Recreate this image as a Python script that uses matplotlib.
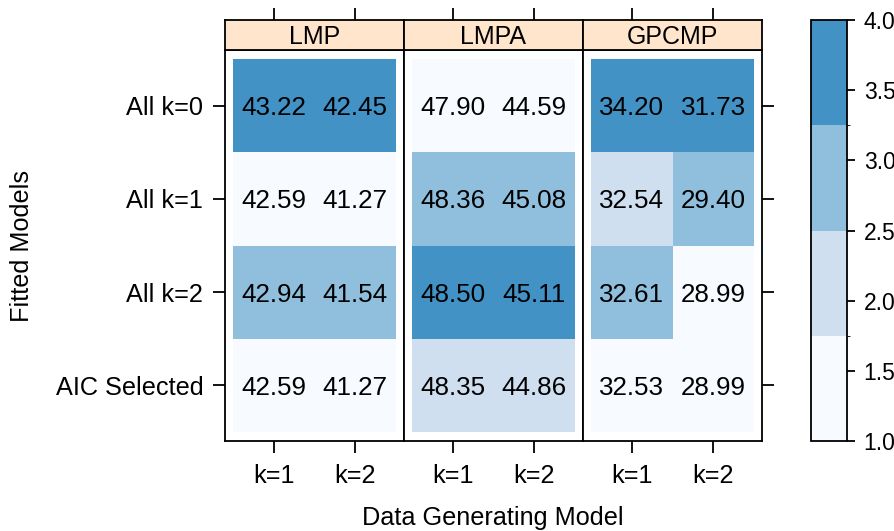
import numpy as np
import pandas as pd
import matplotlib
matplotlib.use("Agg")
import matplotlib.pyplot as plt
from matplotlib.colors import ListedColormap, BoundaryNorm

plt.rcParams["font.family"] = ["Liberation Sans", "DejaVu Sans"]

# Data
panels = ["LMP", "LMPA", "GPCMP"]
fitted_models = ["All k=0", "All k=1", "All k=2", "AIC Selected"]
generating_k = ["k=1", "k=2"]

# rows = fitted models, columns = generating k
lmp_values = [[43.22, 42.45],
              [42.59, 41.27],
              [42.94, 41.54],
              [42.59, 41.27]]
lmpa_values = [[47.90, 44.59],
               [48.36, 45.08],
               [48.50, 45.11],
               [48.35, 44.86]]
gpcmp_values = [[34.20, 31.73],
                [32.54, 29.40],
                [32.61, 28.99],
                [32.53, 28.99]]
panel_values = [lmp_values, lmpa_values, gpcmp_values]

colorbar_ticks = [1.0, 1.5, 2.0, 2.5, 3.0, 3.5, 4.0]
level_colors = ["#F7FBFF", "#CFDFF0", "#8FBFDC", "#4292C6"]

W, H = 895, 531
fig = plt.figure(figsize=(W / 100, H / 100), dpi=100)

cmap = ListedColormap(level_colors)
norm = BoundaryNorm(np.linspace(1, 4, 5), cmap.N)

def px_axes(x0, y0, x1, y1):
    return fig.add_axes([x0 / W, 1 - y1 / H, (x1 - x0) / W, (y1 - y0) / H])

panel_left = [225, 404, 583]
panel_w = 179
p_top, p_bot = 50, 441
strip_top = 20
lw = 1.3
tick_len = 8.6
cell_fs = 18.7
lab_fs = 18.2

for i, (name, vals) in enumerate(zip(panels, panel_values)):
    vals = np.array(vals)
    # rank of each fitted model within each generating-model column
    ranks = pd.DataFrame(vals).rank(method="min", axis=0).to_numpy()
    x0 = panel_left[i]
    ax = px_axes(x0, p_top, x0 + panel_w, p_bot)
    xe = np.arange(len(generating_k) + 1) + 0.5
    ye = np.arange(len(fitted_models) + 1) + 0.5
    ax.pcolormesh(xe, ye, ranks, cmap=cmap, norm=norm)
    for r in range(vals.shape[0]):
        for c in range(vals.shape[1]):
            ax.text(c + 1, r + 1, f"{vals[r, c]:.2f}", ha="center",
                    va="center_baseline", fontsize=cell_fs, color="black")
    ax.set_xlim(0.4, 2.6)
    ax.set_ylim(4.6, 0.4)
    ax.set_xticks([1, 2])
    ax.set_xticklabels(generating_k)
    ax.set_yticks(np.arange(1, len(fitted_models) + 1))
    ax.tick_params(axis="x", top=False, bottom=True, direction="out",
                   length=tick_len, width=lw, pad=8, labelsize=lab_fs)
    if i == 0:
        ax.set_yticklabels(fitted_models, va="center_baseline")
        ax.tick_params(axis="y", left=True, right=False, direction="out",
                       length=tick_len, width=lw, pad=7, labelsize=lab_fs)
    elif i == len(panels) - 1:
        ax.set_yticklabels([])
        ax.tick_params(axis="y", left=False, right=True, direction="out",
                       length=tick_len, width=lw)
    else:
        ax.set_yticklabels([])
        ax.tick_params(axis="y", left=False, right=False)
    for s in ax.spines.values():
        s.set_linewidth(lw)
    # strip with panel name and top ticks
    sax = px_axes(x0, strip_top, x0 + panel_w, p_top)
    sax.set_facecolor("#FFE5CC")
    sax.set_yticks([])
    for s in sax.spines.values():
        s.set_linewidth(lw)
    sax.text(0.5, 0.5, name, ha="center", va="center_baseline", fontsize=18,
             transform=sax.transAxes)
    sax.set_xlim(0.4, 2.6)
    sax.set_xticks([1, 2])
    sax.tick_params(axis="x", top=True, bottom=False, labeltop=False,
                    labelbottom=False, direction="out", length=tick_len,
                    width=lw)

# colorbar
cax = px_axes(811, 20, 847, 441)
cb = matplotlib.colorbar.ColorbarBase(cax, cmap=cmap, norm=norm,
                                      boundaries=np.linspace(1, 4, 5),
                                      ticks=colorbar_ticks)
cb.ax.set_yticklabels([f"{t:.1f}" for t in colorbar_ticks])
cb.ax.tick_params(length=6, width=lw, labelsize=16.5, pad=6)
cb.outline.set_linewidth(lw)

fig.text(22 / W, 1 - 246 / H, "Fitted Models", rotation=90, ha="center",
         va="center", fontsize=lab_fs)
fig.text(493 / W, 1 - 518 / H, "Data Generating Model", ha="center",
         va="center", fontsize=lab_fs)

fig.savefig("out.png", dpi=100)
